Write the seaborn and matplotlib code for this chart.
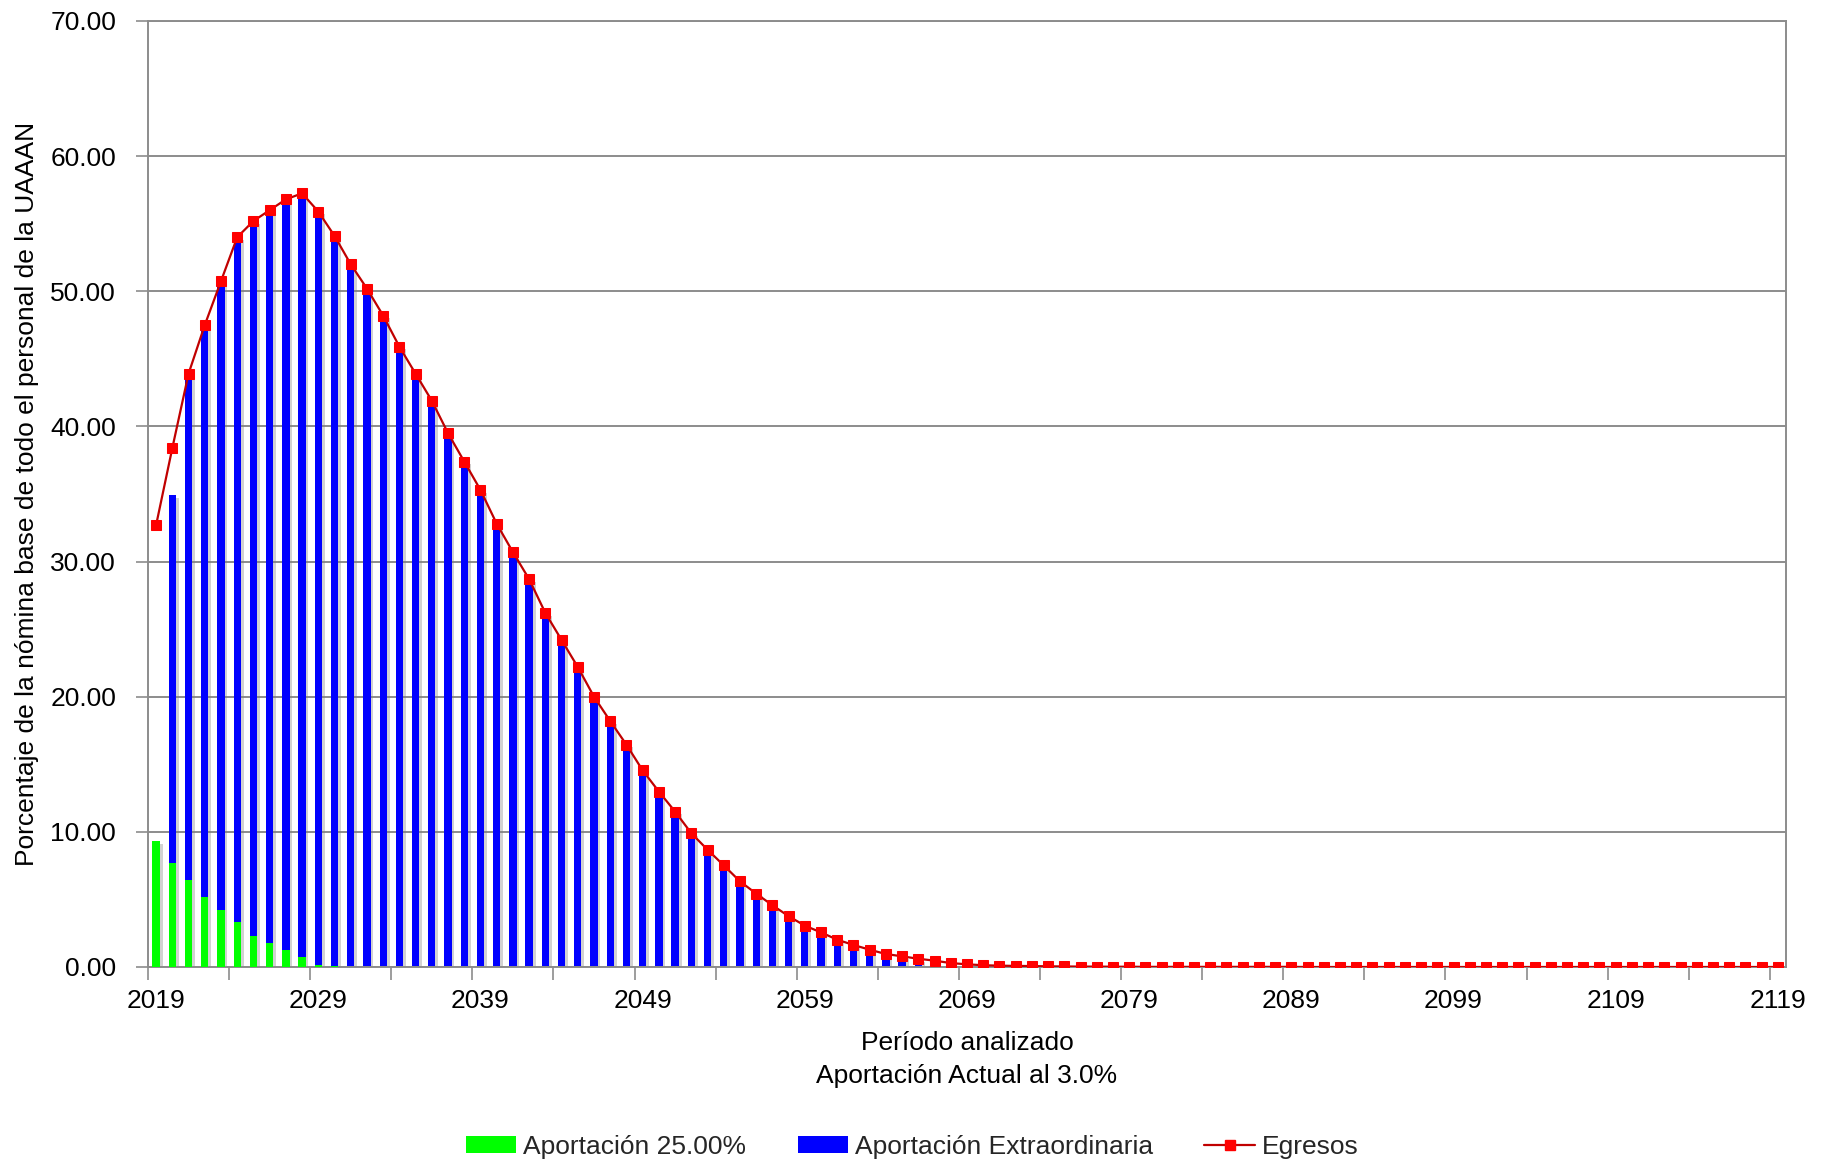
import numpy as np
import pandas as pd
import matplotlib
matplotlib.use("Agg")
import matplotlib.pyplot as plt
import matplotlib.patheffects as pe
import seaborn as sns
from matplotlib.patches import Patch
from matplotlib.lines import Line2D
from matplotlib.ticker import FixedLocator, FormatStrFormatter

# ---------------- data ----------------
years = list(range(2019, 2120))
tick_labels = [str(y) for y in range(2019, 2120, 10)]

aport_25 = [9.3, 7.7, 6.45, 5.15, 4.2, 3.3, 2.3, 1.8, 1.25, 0.77, 0.18, 0.08] + [0.0] * 89

aport_extra = [
    0.0, 27.2, 37.45, 42.35, 46.55, 50.7, 52.9, 54.2, 55.55, 56.48,
    55.72, 54.02, 52.0, 50.2, 48.2, 45.9, 43.9, 41.9, 39.5, 37.4,
    35.3, 32.8, 30.7, 28.7, 26.2, 24.2, 22.2, 20.0, 18.2, 16.45,
    14.55, 12.98, 11.5, 9.9, 8.68, 7.52, 6.34, 5.43, 4.57, 3.76,
    3.06, 2.56, 2.02, 1.63, 1.28, 0.96, 0.79, 0.61, 0.47, 0.29,
    0.20, 0.13, 0.10, 0.08, 0.07, 0.05, 0.04, 0.03, 0.03, 0.02,
    0.02, 0.01, 0.01, 0.01, 0.01, 0.01, 0.01, 0.01, 0.01, 0.01,
    0.01, 0.0, 0.0, 0.0, 0.0, 0.0, 0.0, 0.0, 0.0, 0.0,
    0.0, 0.0, 0.0, 0.0, 0.0, 0.0, 0.0, 0.0, 0.0, 0.0,
    0.0, 0.0, 0.0, 0.0, 0.0, 0.0, 0.0, 0.0, 0.0, 0.0,
    0.0,
]

egresos = [
    32.7, 38.4, 43.9, 47.5, 50.75, 54.0, 55.2, 56.0, 56.8, 57.25,
    55.9, 54.1, 52.0, 50.2, 48.2, 45.9, 43.9, 41.9, 39.5, 37.4,
    35.3, 32.8, 30.7, 28.7, 26.2, 24.2, 22.2, 20.0, 18.2, 16.45,
    14.55, 12.98, 11.5, 9.9, 8.68, 7.52, 6.34, 5.43, 4.57, 3.76,
    3.06, 2.56, 2.02, 1.63, 1.28, 0.96, 0.79, 0.61, 0.47, 0.29,
    0.20, 0.13, 0.10, 0.08, 0.07, 0.05, 0.04, 0.03, 0.03, 0.02,
    0.02, 0.01, 0.01, 0.01, 0.01, 0.01, 0.01, 0.01, 0.01, 0.01,
    0.01, 0.0, 0.0, 0.0, 0.0, 0.0, 0.0, 0.0, 0.0, 0.0,
    0.0, 0.0, 0.0, 0.0, 0.0, 0.0, 0.0, 0.0, 0.0, 0.0,
    0.0, 0.0, 0.0, 0.0, 0.0, 0.0, 0.0, 0.0, 0.0, 0.0,
    0.0,
]

df = pd.DataFrame({
    "year": [str(y) for y in years],
    "pos": np.arange(len(years)),
    "green": aport_25,
    "blue": aport_extra,
    "egresos": egresos,
})
df["total"] = df["green"] + df["blue"]

# ---------------- style ----------------
sns.set_theme(style="white")
plt.rcParams["font.family"] = ["Liberation Sans", "DejaVu Sans"]
FS = 19

fig = plt.figure(figsize=(18.29, 11.62), dpi=100)
ax = fig.add_axes([148 / 1829, 1 - 967 / 1162, (1786 - 148) / 1829, (967 - 21) / 1162])

GREEN = "#00FF00"
BLUE = "#0000FF"
RED = "#FF0000"
LINE = "#C00000"
GRID = "#8C8C8C"

shadow = [pe.SimplePatchShadow(offset=(2, -2), shadow_rgbFace="#808080", alpha=0.35), pe.Normal()]

# stacked bars: total (blue) first, then green over the bottom part
sns.barplot(data=df, x="year", y="total", color=BLUE, saturation=1, width=0.45,
            ax=ax, zorder=2, linewidth=0, errorbar=None)
n_blue = len(ax.patches)
sns.barplot(data=df, x="year", y="green", color=GREEN, saturation=1, width=0.45,
            ax=ax, zorder=3, linewidth=0, errorbar=None)
for p in ax.patches[:n_blue]:
    p.set_path_effects(shadow)

sns.lineplot(data=df, x="pos", y="egresos", color=LINE, linewidth=1.6, ax=ax,
             marker="s", markersize=7, markerfacecolor=RED, markeredgecolor=RED,
             zorder=4)

# axes
ax.set_xlim(-0.5, len(years) - 0.5)
ax.set_ylim(0, 70)
ax.set_yticks(np.arange(0, 71, 10))
ax.yaxis.set_major_formatter(FormatStrFormatter("%.2f"))
ax.grid(axis="y", color=GRID, linewidth=1.4, zorder=0)
ax.grid(axis="x", visible=False)
ax.set_axisbelow(True)

ax.set_xticks(np.arange(0, len(years), 10))
ax.set_xticklabels(tick_labels)
ax.xaxis.set_minor_locator(FixedLocator(np.arange(-0.5, len(years), 5)))
ax.tick_params(axis="x", which="major", length=0, pad=16, labelsize=FS, colors="black")
ax.tick_params(axis="x", which="minor", length=9, width=1.2, color=GRID, direction="out", bottom=True)
ax.tick_params(axis="y", which="major", length=9, width=1.2, color=GRID, direction="out",
               left=True, pad=14, labelsize=FS, labelcolor="black")

for s in ax.spines.values():
    s.set_color(GRID)
    s.set_linewidth(1.4)

ax.set_ylabel("Porcentaje de la nómina base de todo el personal de la UAAAN",
              fontsize=FS, color="black", labelpad=8)
ax.set_xlabel("Período analizado\nAportación Actual al 3.0%", fontsize=FS,
              color="black", labelpad=13, linespacing=1.45)

handles = [
    Patch(facecolor=GREEN, edgecolor="none"),
    Patch(facecolor=BLUE, edgecolor="none"),
    Line2D([0], [0], color=LINE, linewidth=1.6, marker="s", markersize=7,
           markerfacecolor=RED, markeredgecolor=RED),
]
labels = ["Aportación 25.00%", "Aportación Extraordinaria", "Egresos"]
fig.legend(handles, labels, loc="center", bbox_to_anchor=(782 / 1568, 1 - 983 / 996),
           ncol=3, frameon=False, fontsize=FS, handlelength=1.9, handleheight=0.6,
           columnspacing=1.95, handletextpad=0.27)

fig.savefig("out.png", dpi=100)
